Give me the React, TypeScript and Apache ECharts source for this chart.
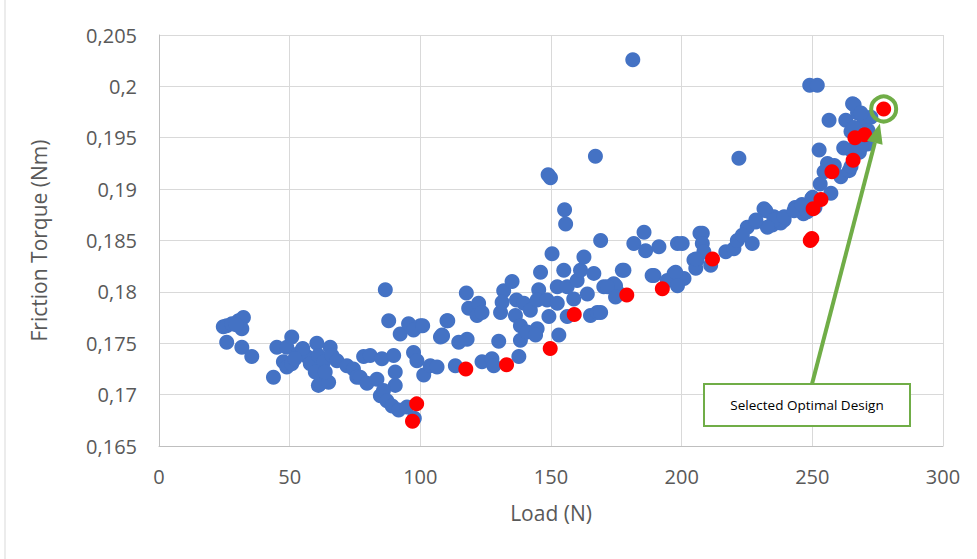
import React, { useEffect, useRef } from "react";
import * as echarts from "echarts";

// Blue series: all evaluated designs [Load (N), Friction Torque (Nm)]
const blueLoads: number[] = [
  24.6, 25.9, 27.9, 30.4, 32.3, 31.7, 29.5, 25.9, 31.7, 35.5,
  43.8, 45.1, 48.9, 50.8, 47.6, 48.9, 50.8, 53.4, 56.6, 57.9, 60.4, 61.0, 63.0, 65.5, 66.2, 61.0, 61.7, 64.9, 59.8, 63.6,
  68.1, 71.9, 74.4, 75.7, 78.3, 80.8, 77.0, 79.6, 83.4, 85.3, 89.8, 90.4, 90.4, 84.7, 85.9, 87.2, 89.2, 91.7, 94.9, 97.7,
  86.6, 87.9, 92.3, 95.5, 100.0, 97.4, 97.4, 98.7, 101.3, 103.8, 107.7, 55.0, 52.0,
  106.4, 113.4, 108.5, 110.5, 114.7, 117.9, 117.6, 118.5, 122.3, 121.7, 123.6, 123.6, 127.4, 128.1, 130.0, 130.7, 131.9,
  135.1, 131.3, 136.8, 139.6, 136.4, 138.3, 138.3, 140.9, 144.7, 144.1, 137.7, 142.1, 145.3, 146.0, 144.7, 149.2, 148.5,
  150.4, 153.0, 152.4, 152.4, 154.9, 156.2, 156.2, 158.7, 160.0, 161.3, 162.6, 163.9, 165.1, 166.4, 167.7, 170.2, 174.0,
  177.3, 175.4, 155.2, 155.6, 169.0, 148.9, 149.8, 167.0, 181.3, 100.9, 108.3, 110.2,
  185.6, 181.7, 186.2, 191.3, 198.4, 200.2, 189.4, 197.1, 200.9, 204.7, 207.0, 177.9, 174.7, 171.6, 174.7, 169.0, 188.7,
  194.5, 197.7, 198.4, 205.9, 205.4, 207.9, 207.9, 208.5, 211.1, 216.9, 220.0, 221.3, 225.1, 227.0, 228.4, 231.5, 234.7,
  235.3, 223.2, 221.9, 205.4, 237.9, 239.2,
  249.0, 251.9, 265.4, 256.4, 262.8, 267.3, 269.9, 272.4, 264.8, 252.6, 264.8, 268.0, 271.1, 255.8, 258.4, 254.5, 260.9,
  264.1, 257.1, 249.8, 243.4, 246.6, 251.0, 232.2, 235.3, 239.2, 232.8, 243.0, 248.1, 266.0, 268.6, 271.3, 268.6, 266.0,
  264.8, 250.1, 228.4, 262.0, 266.0, 253.0, 246.0,
];
const blueTorques: number[] = [
  0.1766, 0.1767, 0.1769, 0.1772, 0.1775, 0.1764, 0.1768, 0.1751, 0.1746, 0.1737,
  0.1717, 0.1746, 0.1746, 0.1756, 0.1732, 0.1727, 0.173, 0.174, 0.1737, 0.173, 0.175, 0.1738, 0.1732, 0.1746, 0.1738, 0.1709, 0.1711, 0.1712, 0.1722, 0.1722,
  0.1733, 0.1728, 0.1725, 0.1717, 0.1737, 0.1738, 0.1717, 0.1711, 0.1715, 0.1735, 0.1738, 0.1722, 0.1709, 0.1699, 0.1704, 0.1694, 0.1689, 0.1685, 0.1688, 0.1677,
  0.1802, 0.1772, 0.1759, 0.1769, 0.1767, 0.1763, 0.1741, 0.1733, 0.1719, 0.1728, 0.1756, 0.1745, 0.1735,
  0.1727, 0.1728, 0.1757, 0.1772, 0.1751, 0.1754, 0.1799, 0.1784, 0.1789, 0.1777, 0.178, 0.1732, 0.1735, 0.1728, 0.1752, 0.178, 0.1801,
  0.181, 0.179, 0.1792, 0.1789, 0.1777, 0.1767, 0.1753, 0.1761, 0.1764, 0.1758, 0.1737, 0.1782, 0.1802, 0.1819, 0.1792, 0.1776, 0.1792,
  0.1837, 0.1758, 0.1805, 0.1789, 0.1821, 0.1805, 0.1776, 0.1793, 0.1811, 0.1821, 0.1834, 0.1798, 0.1777, 0.1818, 0.178, 0.1805, 0.1808,
  0.1821, 0.18, 0.188, 0.1866, 0.185, 0.1914, 0.1911, 0.1932, 0.2026, 0.1767, 0.1758, 0.1772,
  0.1858, 0.1847, 0.184, 0.1844, 0.1847, 0.1847, 0.1816, 0.1818, 0.1813, 0.1831, 0.1857, 0.1821, 0.1806, 0.1805, 0.1795, 0.178, 0.1816,
  0.1811, 0.1819, 0.1806, 0.1831, 0.1823, 0.1857, 0.1847, 0.1839, 0.1826, 0.1839, 0.1842, 0.185, 0.1863, 0.1847, 0.1868, 0.1881, 0.1865,
  0.1873, 0.1855, 0.193, 0.1832, 0.1867, 0.187,
  0.2001, 0.2001, 0.1983, 0.1967, 0.1967, 0.1974, 0.1967, 0.197, 0.1956, 0.1938, 0.1938, 0.1936, 0.1944, 0.1925, 0.1923, 0.1917, 0.1912,
  0.1918, 0.1896, 0.1891, 0.1882, 0.1876, 0.1882, 0.1879, 0.187, 0.1873, 0.1863, 0.1879, 0.1878, 0.1982, 0.1974, 0.1957, 0.1941, 0.1935,
  0.1922, 0.1892, 0.187, 0.194, 0.196, 0.1905, 0.1885,
];

// Red series: Pareto designs
const redLoads: number[] = [97.0, 98.6, 117.4, 133.0, 149.7, 158.9, 179.0, 192.6, 211.8, 249.2, 249.8, 250.3, 253.3, 257.5, 265.6, 266.3, 270.0, 277.3];
const redTorques: number[] = [0.1674, 0.1691, 0.1725, 0.1729, 0.1745, 0.1778, 0.1797, 0.1803, 0.1832, 0.185, 0.1852, 0.1881, 0.189, 0.1917, 0.1928, 0.195, 0.1953, 0.1978];

// Selected optimal design
const optimalPoint: number[] = [277.3, 0.1978];
const annotationText = "Selected Optimal Design";

const xTitle = "Load (N)";
const yTitle = "Friction Torque (Nm)";

const FONT = "'Open Sans', 'Noto Sans', sans-serif";
const GREEN = "#70AD47";

function fmtY(v: number): string {
  const s = (Math.round(v * 1000) / 1000).toFixed(3).replace(/0+$/, "").replace(/\.$/, "");
  return s.replace(".", ",");
}

export default function App() {
  const ref = useRef<HTMLDivElement>(null);
  useEffect(() => {
    if (!ref.current) return;
    const chart = echarts.init(ref.current, null, { renderer: "svg" });
    const blue = blueLoads.map((x, i) => [x, blueTorques[i]]);
    const red = redLoads.map((x, i) => [x, redTorques[i]]);
    chart.setOption({
      animation: false,
      backgroundColor: "#ffffff",
      grid: { left: 159, right: 34, top: 35, bottom: 113, containLabel: false },
      xAxis: {
        type: "value",
        min: 0,
        max: 300,
        interval: 50,
        name: xTitle,
        nameLocation: "middle",
        nameGap: 56,
        nameTextStyle: { fontFamily: FONT, fontSize: 21, color: "#595959" },
        axisLine: { show: true, lineStyle: { color: "#BFBFBF", width: 1 } },
        axisTick: { show: false },
        axisLabel: { fontFamily: FONT, fontSize: 20, color: "#595959", margin: 20 },
        splitLine: { show: true, lineStyle: { color: "#D9D9D9", width: 1 } },
      },
      yAxis: {
        type: "value",
        min: 0.165,
        max: 0.205,
        interval: 0.005,
        name: yTitle,
        nameLocation: "middle",
        nameGap: 110,
        nameRotate: 90,
        nameTextStyle: { fontFamily: FONT, fontSize: 21, color: "#595959" },
        axisLine: { show: true, lineStyle: { color: "#BFBFBF", width: 1 } },
        axisTick: { show: false },
        axisLabel: { fontFamily: FONT, fontSize: 20, color: "#595959", margin: 22, formatter: (v: number) => fmtY(v) },
        splitLine: { show: true, lineStyle: { color: "#D9D9D9", width: 1 } },
      },
      series: [
        {
          type: "scatter",
          data: blue,
          symbolSize: 15,
          itemStyle: { color: "#4472C4", opacity: 1 },
          z: 2,
        },
        {
          type: "scatter",
          data: red,
          symbolSize: 15,
          itemStyle: { color: "#FF0000", opacity: 1 },
          z: 3,
        },
      ],
    });

    const c = chart.convertToPixel({ gridIndex: 0 }, optimalPoint) as number[];
    const boxX = 704, boxY = 384, boxW = 206, boxH = 42;
    const start = [812, boxY];
    const dx = c[0] - start[0], dy = c[1] - start[1];
    const len = Math.sqrt(dx * dx + dy * dy);
    const ux = dx / len, uy = dy / len;
    const tip = [c[0] - ux * 15, c[1] - uy * 15];
    const base = [tip[0] - ux * 20, tip[1] - uy * 20];
    const nx = -uy, ny = ux;
    chart.setOption({
      graphic: [
        {
          type: "line",
          shape: { x1: 5, y1: 0, x2: 5, y2: 559 },
          style: { stroke: "#D9D9D9", lineWidth: 1 },
          silent: true,
        },
        {
          type: "circle",
          shape: { cx: c[0], cy: c[1], r: 12.5 },
          style: { fill: "none", stroke: GREEN, lineWidth: 4 },
          z: 100,
        },
        {
          type: "line",
          shape: { x1: start[0], y1: start[1], x2: base[0], y2: base[1] },
          style: { stroke: GREEN, lineWidth: 4 },
          z: 100,
        },
        {
          type: "polygon",
          shape: {
            points: [
              [tip[0], tip[1]],
              [base[0] + nx * 8, base[1] + ny * 8],
              [base[0] - nx * 8, base[1] - ny * 8],
            ],
          },
          style: { fill: GREEN },
          z: 100,
        },
        {
          type: "rect",
          shape: { x: boxX, y: boxY, width: boxW, height: boxH },
          style: { fill: "#ffffff", stroke: GREEN, lineWidth: 2 },
          z: 100,
        },
        {
          type: "text",
          x: boxX + boxW / 2,
          y: boxY + boxH / 2,
          style: {
            text: annotationText,
            fontFamily: FONT,
            fontSize: 13.5,
            fill: "#000000",
            align: "center",
            verticalAlign: "middle",
          },
          z: 101,
        },
      ],
    });

    return () => chart.dispose();
  }, []);
  return (
    <div
      ref={ref}
      style={{ position: "absolute", left: 0, top: 0, width: 977, height: 559 }}
    />
  );
}
